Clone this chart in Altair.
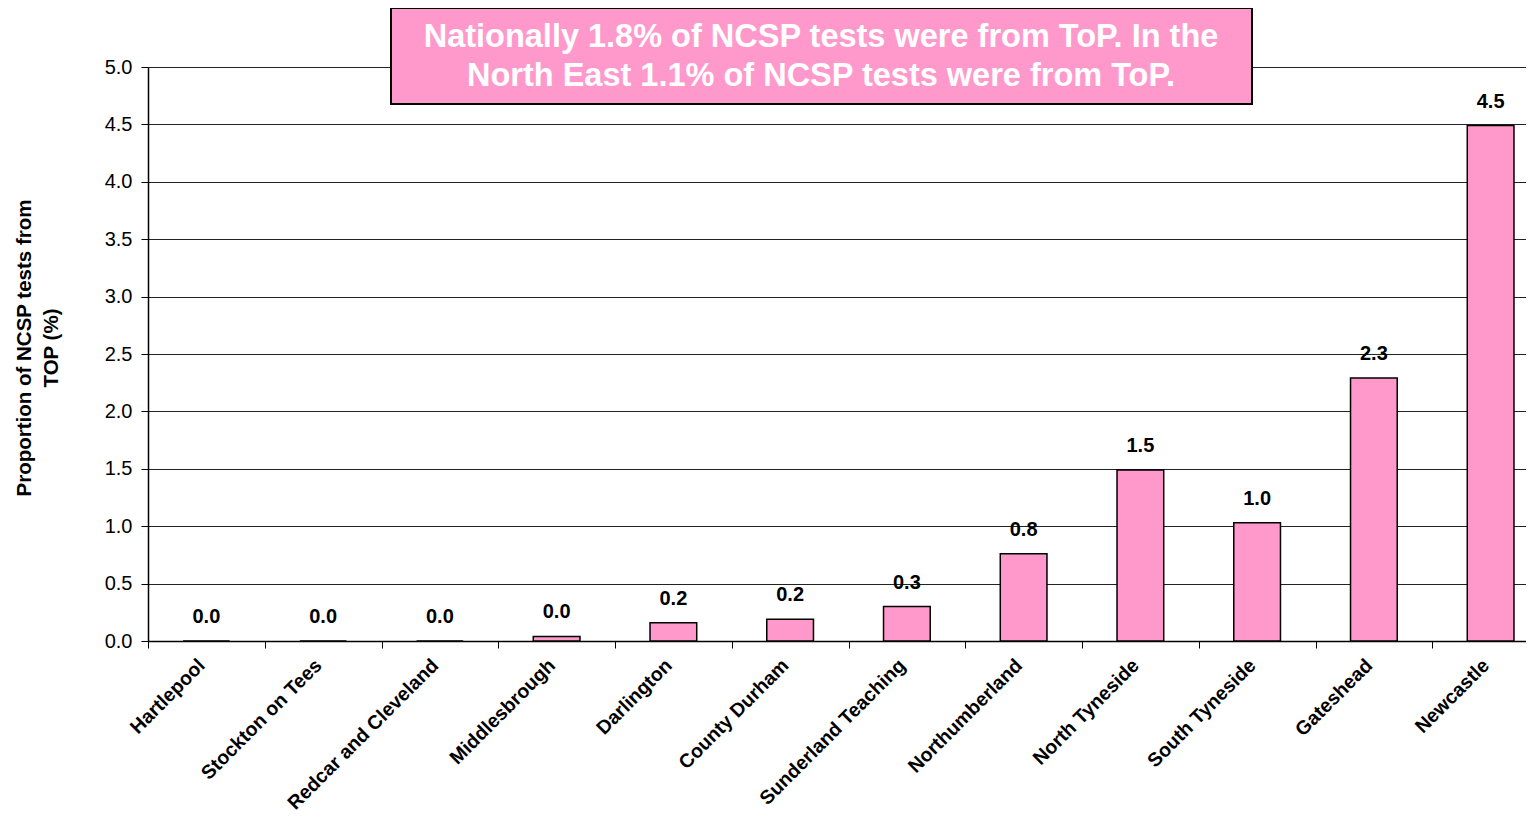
import altair as alt
import pandas as pd

areas = ["Hartlepool", "Stockton on Tees", "Redcar and Cleveland", "Middlesbrough",
         "Darlington", "County Durham", "Sunderland Teaching", "Northumberland",
         "North Tyneside", "South Tyneside", "Gateshead", "Newcastle"]
values = [0.0, 0.0, 0.0, 0.04, 0.16, 0.19, 0.30, 0.76, 1.49, 1.03, 2.29, 4.49]
y_ticks = [0.0, 0.5, 1.0, 1.5, 2.0, 2.5, 3.0, 3.5, 4.0, 4.5, 5.0]
title_lines = ["Nationally 1.8% of NCSP tests were from  ToP. In the",
               "North East 1.1% of NCSP tests were from ToP."]
y_title_lines = ["Proportion of NCSP tests from", "TOP (%)"]

df = pd.DataFrame({"area": areas, "value": values})
FONT = "Liberation Sans"
PINK = "#FF99CC"

x_scale = alt.Scale(range=[0, 1401], paddingInner=0, paddingOuter=0)
x_enc = alt.X("area:N", sort=areas, title=None, scale=x_scale,
              axis=alt.Axis(labelAngle=-45, labelAlign="right", labelBaseline="middle",
                            labelFont=FONT, labelFontSize=19.5, labelFontWeight="bold",
                            labelColor="black", labelPadding=14, labelOffset=-5,
                            tickBand="extent",
                            tickSize=7, tickColor="black", domainColor="black",
                            domainWidth=1.5, labelOverlap=False, labelLimit=400))
y_enc = alt.Y("value:Q", title=None,
              scale=alt.Scale(domain=[0, 5], nice=False),
              axis=alt.Axis(values=y_ticks, format=".1f", labelFont=FONT, labelFontSize=20,
                            labelColor="black", labelPadding=9, tickSize=7,
                            tickColor="black", domainColor="black", domainWidth=1.5,
                            grid=True, gridColor="#222222", gridWidth=1))

base = alt.Chart(df)
bars = base.mark_bar(fill=PINK, stroke="black", strokeWidth=1.5,
                     width=alt.RelativeBandSize(0.4)).encode(x=x_enc, y=y_enc)
labels = base.mark_text(font=FONT, fontSize=20, fontWeight="bold", dy=-24,
                        baseline="middle", color="black").encode(
    x=alt.X("area:N", sort=areas, scale=x_scale), y="value:Q",
    text=alt.Text("value:Q", format=".1f"))

dummy = alt.Chart(pd.DataFrame({"t": [0]}))
box = dummy.mark_rect(fill=PINK, stroke="black", strokeWidth=2).encode(
    x=alt.value(243), x2=alt.value(1104), y=alt.value(-59), y2=alt.value(37))
box_text = dummy.mark_text(font=FONT, fontSize=32.5, fontWeight="bold", color="white",
                           lineHeight=39, baseline="middle", align="center").encode(
    x=alt.value(673), y=alt.value(-30), text=alt.value(title_lines))
y_title = dummy.mark_text(font=FONT, fontSize=20.5, fontWeight="bold", color="black",
                          angle=270, lineHeight=27, baseline="middle", align="center").encode(
    x=alt.value(-123), y=alt.value(281), text=alt.value(y_title_lines))

chart = alt.layer(bars, labels, box, box_text, y_title).properties(
    width=1378, height=574,
    autosize=alt.AutoSizeParams(type="none"),
    padding={"left": 140, "top": 59, "right": 0, "bottom": 177},
    background="white",
).configure_view(stroke=None)

chart.save("out.html", embed_options={"renderer": "svg", "actions": False})
